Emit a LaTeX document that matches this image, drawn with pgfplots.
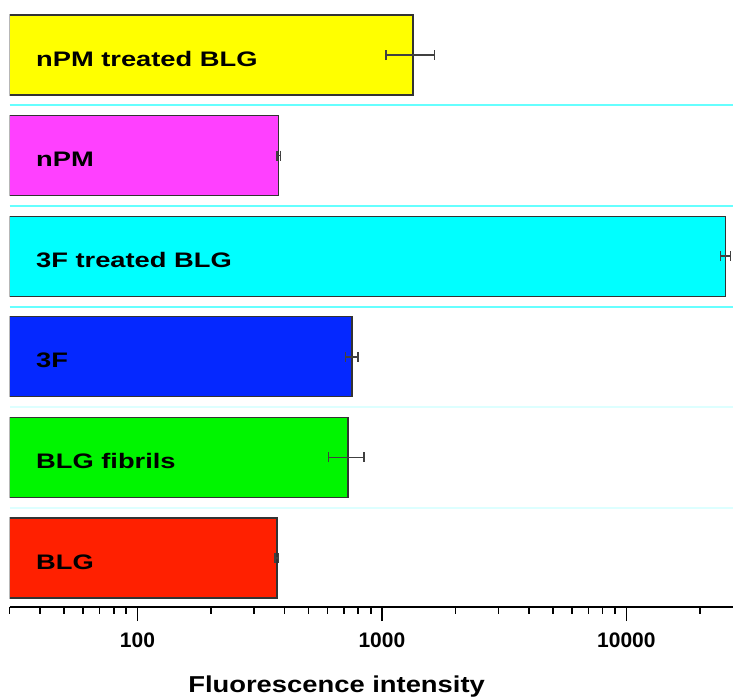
\documentclass[border=0pt]{standalone}
\usepackage{fontspec}
\usepackage{pgfplots}
\pgfplotsset{compat=1.18}
\setmainfont{Liberation Sans}
\newfontfamily\barfont[FakeStretch=1.3]{Liberation Sans}
\newfontfamily\labfont[FakeStretch=1.19]{Liberation Sans}

\definecolor{cYellow}{HTML}{FFFF00}
\definecolor{cMagenta}{HTML}{FF40FF}
\definecolor{cCyan}{HTML}{00FFFF}
\definecolor{cBlue}{HTML}{0528FF}
\definecolor{cGreen}{HTML}{00F500}
\definecolor{cRed}{HTML}{FF2000}
\definecolor{sepBright}{HTML}{66FFFF}
\definecolor{sepPale}{HTML}{DDFFFF}

\begin{document}
\begin{tikzpicture}
\begin{axis}[
  scale only axis,
  axis on top,
  width=723.4pt, height=607pt,
  xmode=log, log basis x=10,
  log origin x=infty,
  xmin=30, xmax=27300,
  ymin=-0.487, ymax=5.547,
  xbar, bar width=0.795,
  axis x line*=bottom,
  axis y line*=left,
  y axis line style={draw=none},
  x axis line style={-, line width=2pt, black},
  tick align=outside,
  xtick={100,1000,10000},
  xticklabels={100,1000,10000},
  minor xtick={30,40,50,60,70,80,90,200,300,400,500,600,700,800,900,
               2000,3000,4000,5000,6000,7000,8000,9000,20000},
  major x tick style={line width=1.6pt, black},
  minor x tick style={line width=1.6pt, black},
  major tick length=14pt,
  minor tick length=7pt,
  xticklabel style={font=\fontsize{21}{24}\selectfont\bfseries, anchor=base, yshift=-26pt},
  ytick={0,1,2,3,4,5},
  yticklabels={BLG, BLG fibrils, 3F, 3F treated BLG, nPM, nPM treated BLG},
  major y tick style={draw=none},
  y tick label style={font=\barfont\fontsize{21}{24}\selectfont\bfseries, anchor=base west, xshift=37pt, yshift=-11pt},
  xlabel={Fluorescence intensity},
  xlabel style={font=\labfont\fontsize{23}{26}\selectfont\bfseries, at={(axis description cs:0.452,0)}, anchor=base, yshift=-86pt},
  every axis plot/.append style={draw=black!80, line width=1.2pt, bar shift=0pt},
]
% separator rules between the groups
\draw[sepBright, line width=2pt] (axis cs:30,4.5) -- (axis cs:27300,4.5);
\draw[sepBright, line width=2pt] (axis cs:30,3.5) -- (axis cs:27300,3.5);
\draw[sepBright, line width=2pt] (axis cs:30,2.5) -- (axis cs:27300,2.5);
\draw[sepPale, line width=2pt] (axis cs:30,1.5) -- (axis cs:27300,1.5);
\draw[sepPale, line width=2pt] (axis cs:30,0.5) -- (axis cs:27300,0.5);

\pgfplotsset{/pgfplots/error bars/.cd,
  x dir=both, x explicit,
  error bar style={line width=1.5pt, black!75},
  error mark options={line width=1.5pt, black!75, mark size=5pt, rotate=90}}

\addplot[fill=cRed]     coordinates {(372,0)   +- (6,0)};
\addplot[fill=cGreen]   coordinates {(726,1)   +- (120,0)};
\addplot[fill=cBlue]    coordinates {(755,2)   +- (45,0)};
\addplot[fill=cCyan]    coordinates {(25500,3) +- (1200,0)};
\addplot[fill=cMagenta] coordinates {(379,4)   +- (6,0)};
\addplot[fill=cYellow]  coordinates {(1340,5)  +- (300,0)};
\end{axis}
\pgfresetboundingbox
\path (current axis.south west) ++(-9.6pt,-93pt) rectangle (current axis.north east);
\end{tikzpicture}
\end{document}
